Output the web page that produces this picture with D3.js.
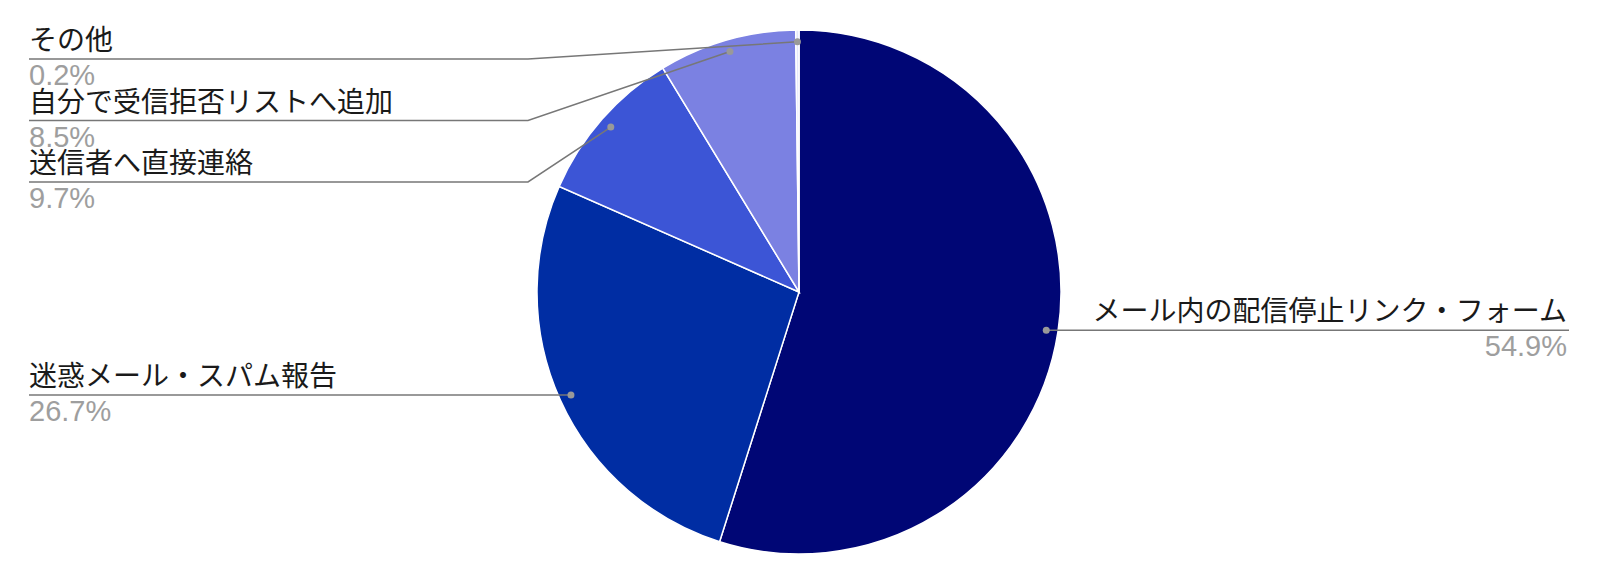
<!DOCTYPE html>
<html>
<head>
<meta charset="utf-8">
<script src="https://cdnjs.cloudflare.com/ajax/libs/d3/7.8.5/d3.min.js"></script>
<style>
  body { margin: 0; background: #fff; }
  .name { font-family: "Liberation Sans", "Noto Sans CJK JP", sans-serif; font-size: 28px; fill: #1a1a1a; }
  .pct { font-family: "Liberation Sans", "Noto Sans CJK JP", sans-serif; font-size: 29px; fill: #9e9e9e; }
</style>
</head>
<body>
<div id="chart"></div>
<script>
var svgWidth = 1600;
var svgHeight = 584;

// data
var labels = ["メール内の配信停止リンク・フォーム", "迷惑メール・スパム報告", "送信者へ直接連絡", "自分で受信拒否リストへ追加", "その他"];
var values = [54.9, 26.7, 9.7, 8.5, 0.2];
var colors = ["#000675", "#002da3", "#3c55d6", "#7b81e2", "#e4e7fb"];

var cx = 799, cy = 292, radius = 262;

var svg = d3.select("#chart")
  .append("svg")
  .attr("width", svgWidth)
  .attr("height", svgHeight);

var slices = labels.map(function(l, i) {
  return { label: l, value: values[i], color: colors[i] };
});

var pie = d3.pie()
  .value(d => d.value)
  .sort(null);

var arc = d3.arc()
  .innerRadius(0)
  .outerRadius(radius);

var dotArc = d3.arc()
  .innerRadius(radius * 0.955)
  .outerRadius(radius * 0.955);

var arcs = pie(slices);

var pieGroup = svg.append("g")
  .attr("transform", `translate(${cx}, ${cy})`);

pieGroup.selectAll("path")
  .data(arcs)
  .enter()
  .append("path")
  .attr("d", arc)
  .attr("fill", d => d.data.color)
  .attr("stroke", "#fff")
  .attr("stroke-width", 1.5);

// label layout: left side stacked from the top, right side at the dot
var blockH = 61.5;
var topY = 59;
var leftX = 29, rightX = 1569;
var leftElbow = 528, rightElbow = 1070;

arcs.forEach(function(d) {
  var c = dotArc.centroid(d);
  d.dot = [cx + c[0], cy + c[1]];
  d.side = d.dot[0] < cx ? "left" : "right";
});

var leftArcs = arcs.filter(d => d.side === "left").sort((a, b) => a.dot[1] - b.dot[1]);
var prev = topY - blockH;
leftArcs.forEach(function(d) {
  d.ly = Math.max(d.dot[1], prev + blockH, topY);
  prev = d.ly;
});
arcs.filter(d => d.side === "right").forEach(function(d) {
  d.ly = d.dot[1];
});

var labelGroup = svg.append("g");

labelGroup.selectAll("polyline")
  .data(arcs)
  .enter()
  .append("polyline")
  .attr("points", function(d) {
    var ex = d.side === "left" ? leftElbow : rightElbow;
    var end = d.side === "left" ? leftX : rightX;
    return [d.dot, [ex, d.ly], [end, d.ly]].map(p => p.join(",")).join(" ");
  })
  .attr("fill", "none")
  .attr("stroke", "#777")
  .attr("stroke-width", 1.5);

labelGroup.selectAll("circle")
  .data(arcs)
  .enter()
  .append("circle")
  .attr("cx", d => d.dot[0])
  .attr("cy", d => d.dot[1])
  .attr("r", 3.5)
  .attr("fill", "#999");

labelGroup.selectAll("text.name")
  .data(arcs)
  .enter()
  .append("text")
  .attr("class", "name")
  .attr("x", d => d.side === "left" ? leftX : rightX - 2)
  .attr("y", d => d.ly - 9)
  .attr("text-anchor", d => d.side === "left" ? "start" : "end")
  .text(d => d.data.label);

labelGroup.selectAll("text.pct")
  .data(arcs)
  .enter()
  .append("text")
  .attr("class", "pct")
  .attr("x", d => d.side === "left" ? leftX : rightX - 2)
  .attr("y", d => d.ly + 26)
  .attr("text-anchor", d => d.side === "left" ? "start" : "end")
  .text(d => d.data.value.toFixed(1) + "%");
</script>
</body>
</html>
